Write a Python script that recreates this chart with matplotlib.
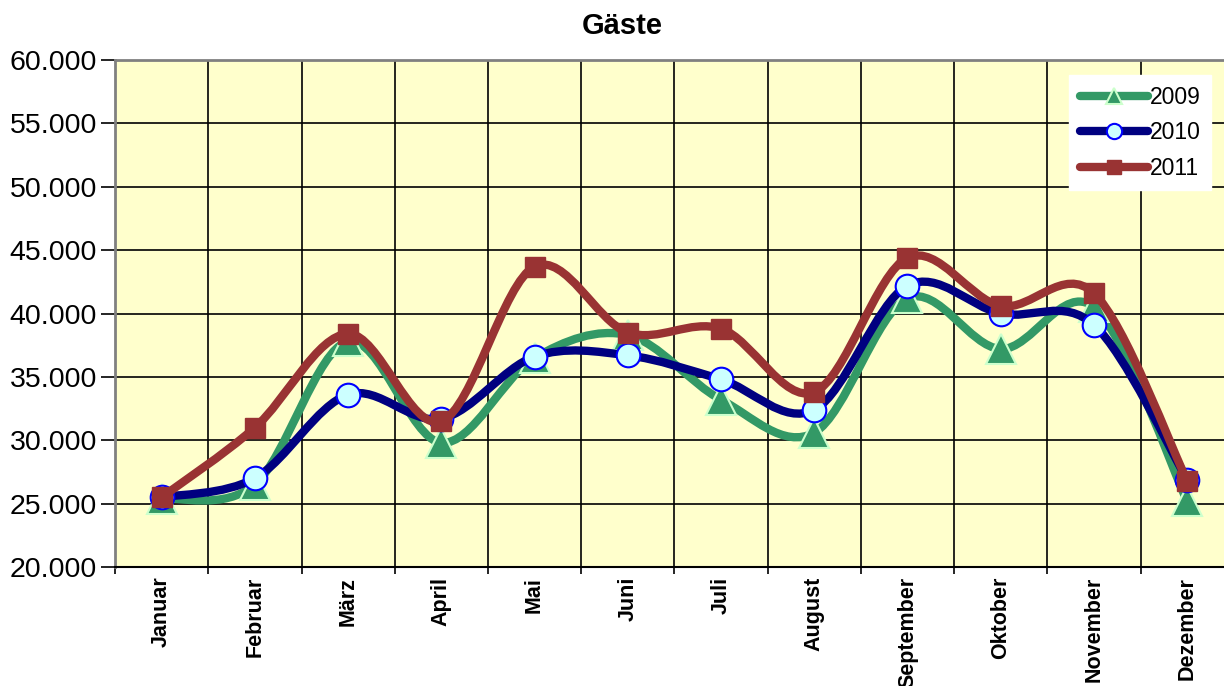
import numpy as np
import matplotlib
matplotlib.use("Agg")
from matplotlib import pyplot as plt
from matplotlib.path import Path
import matplotlib.patches as mpatches
from matplotlib.lines import Line2D
from matplotlib.ticker import FuncFormatter, FixedLocator

plt.rcParams['font.family'] = ['Liberation Sans', 'DejaVu Sans']

months = ["Januar", "Februar", "März", "April", "Mai", "Juni", "Juli",
          "August", "September", "Oktober", "November", "Dezember"]
g2009 = [25400, 26500, 37800, 29800, 36500, 38300, 33200, 30600, 41200, 37200, 40500, 25200]
g2010 = [25500, 27000, 33600, 31700, 36600, 36700, 34800, 32400, 42200, 40000, 39100, 26900]
g2011 = [25500, 31000, 38400, 31500, 43700, 38500, 38800, 33800, 44400, 40600, 41600, 26800]


def smooth_path(xs, ys):
    # excel-style smoothed line, bezier segments through each point
    pts = np.column_stack([xs, ys]).astype(float)
    n = len(pts)
    verts = [pts[0]]
    codes = [Path.MOVETO]
    for i in range(n - 1):
        p0 = pts[max(i - 1, 0)]
        p1 = pts[i]
        p2 = pts[i + 1]
        p3 = pts[min(i + 2, n - 1)]
        c1 = p1 + (p2 - p0) / 6.0
        c2 = p2 - (p3 - p1) / 6.0
        verts += [c1, c2, p2]
        codes += [Path.CURVE4] * 3
    return Path(verts, codes)


fig = plt.figure(figsize=(12.24, 6.86), dpi=100)
ax = fig.add_axes([0.094, 0.1735, 0.914, 0.739])
ax.set_facecolor("#FFFFCC")

x = np.arange(len(months))
series = [
    (g2009, "2009", "#339966", dict(marker="^", markersize=21, markerfacecolor="#339966",
                                    markeredgecolor="#CCFFCC", markeredgewidth=1.5), 11),
    (g2010, "2010", "#000080", dict(marker="o", markersize=17, markerfacecolor="#CCFFFF",
                                    markeredgecolor="#0000FF", markeredgewidth=1.5), 11),
    (g2011, "2011", "#993333", dict(marker="s", markersize=14, markerfacecolor="#993333",
                                    markeredgecolor="#993333", markeredgewidth=1), 10),
]

handles = []
for i, (vals, lab, col, mk, lms) in enumerate(series):
    patch = mpatches.PathPatch(smooth_path(x, vals), fill=False, edgecolor=col,
                               lw=6, capstyle="round", joinstyle="round", zorder=3 + i * 2)
    ax.add_patch(patch)
    ax.plot(x, vals, linestyle="none", zorder=4 + i * 2, **mk)
    lmk = dict(mk)
    lmk["markersize"] = lms
    handles.append(Line2D([], [], color=col, lw=6, solid_capstyle="round", label=lab, **lmk))

ax.set_xlim(-0.5, 11.5)
ax.set_ylim(20000, 60000)
ax.yaxis.set_major_locator(FixedLocator(np.arange(20000, 60001, 5000)))
ax.yaxis.set_major_formatter(FuncFormatter(lambda v, p: f"{v/1000:.3f}"))
ax.tick_params(axis="y", labelsize=20.5, length=10, width=1.2, direction="out", pad=3)

ax.set_xticks(x)
ax.set_xticklabels(months, rotation=90, fontweight="bold", fontsize=15.5)
ax.tick_params(axis="x", which="major", length=0, pad=7)
ax.set_xticks(np.arange(-0.5, 12, 1), minor=True)
ax.tick_params(axis="x", which="minor", length=5, width=1.2, direction="out")

ax.grid(True, axis="y", color="black", lw=1.2)
ax.grid(True, axis="x", which="minor", color="black", lw=1.2)
ax.grid(False, axis="x", which="major")
ax.set_axisbelow(True)

for s in ["left", "top"]:
    ax.spines[s].set_color("#808080")
    ax.spines[s].set_linewidth(2)
ax.spines["bottom"].set_color("black")
ax.spines["bottom"].set_linewidth(1.5)
ax.spines["right"].set_visible(False)

fig.text(0.5085, 0.962, "Gäste", ha="center", va="center", fontsize=21, fontweight="bold")

leg = ax.legend(handles=handles, loc="upper left", bbox_to_anchor=(0.853, 0.97),
                fontsize=16.5, frameon=True, fancybox=False, handlelength=3.0,
                handletextpad=0.05, borderpad=0.45, labelspacing=0.55, borderaxespad=0)
leg.get_frame().set_edgecolor("white")
leg.get_frame().set_facecolor("white")
leg.get_frame().set_alpha(1)
leg.set_zorder(20)

fig.savefig("out.png", dpi=100, facecolor="white")
